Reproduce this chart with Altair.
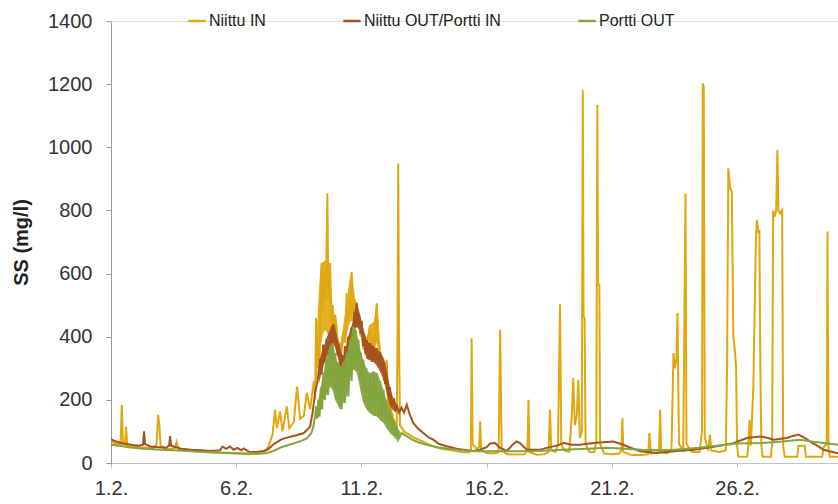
import altair as alt
import pandas as pd

# Suspended solids (mg/l), day 0 = 1.2.; values are (day, SS)
niittu_in = [
    (0.00, 70), (0.15, 62), (0.30, 60), (0.38, 58), (0.43, 184), (0.48, 60), (0.56, 58), (0.60, 115),
    (0.65, 55), (0.90, 52), (1.10, 50), (1.30, 48), (1.50, 50), (1.70, 47), (1.82, 60), (1.88, 153),
    (1.93, 120), (1.98, 55), (2.20, 45), (2.40, 44), (2.55, 48), (2.62, 67), (2.70, 42), (3.00, 40),
    (3.50, 36), (4.00, 33), (4.50, 32), (5.00, 30), (5.50, 28), (6.00, 30), (6.20, 40),
    (6.30, 55), (6.45, 90), (6.55, 169), (6.62, 110), (6.75, 163), (6.85, 100), (7.02, 179), (7.12, 110),
    (7.30, 130), (7.43, 242), (7.55, 140), (7.70, 150), (7.82, 222), (7.95, 170),
    (8.10, 260), (8.15, 200), (8.19, 459), (8.23, 300), (8.28, 380), (8.33, 320), (8.37, 520), (8.41, 633),
    (8.45, 480), (8.50, 600), (8.55, 520), (8.60, 640), (8.64, 854), (8.68, 520), (8.72, 600), (8.75, 633),
    (8.80, 450), (8.85, 500), (8.90, 400), (8.95, 470), (9.01, 432), (9.06, 340), (9.12, 380), (9.18, 330),
    (9.24, 400), (9.30, 420), (9.36, 380), (9.41, 538), (9.46, 450), (9.52, 520), (9.57, 470), (9.61, 606),
    (9.66, 480), (9.72, 520), (9.77, 450), (9.81, 510), (9.86, 430), (9.92, 460), (9.97, 400), (10.03, 420),
    (10.08, 360), (10.14, 390), (10.20, 350), (10.27, 400), (10.34, 437), (10.40, 370), (10.46, 400),
    (10.52, 360), (10.57, 450), (10.61, 506), (10.66, 380), (10.72, 350), (10.78, 300), (10.84, 320),
    (10.90, 260), (10.95, 290), (11.01, 327), (11.06, 200), (11.12, 180), (11.18, 140), (11.24, 150),
    (11.30, 110), (11.36, 125), (11.41, 116), (11.44, 400), (11.47, 949), (11.50, 400), (11.54, 120),
    (11.70, 100), (11.90, 90), (12.10, 80), (12.40, 70), (12.80, 55), (13.20, 45), (13.60, 40),
    (14.00, 35), (14.30, 33), (14.37, 40), (14.40, 395), (14.44, 60), (14.60, 45), (14.70, 50),
    (14.74, 132), (14.78, 40), (15.00, 32), (15.30, 30), (15.48, 35), (15.54, 422), (15.60, 40),
    (15.80, 28), (16.20, 27), (16.50, 28), (16.63, 40), (16.67, 200), (16.71, 35), (17.00, 26),
    (17.30, 28), (17.47, 35), (17.53, 169), (17.58, 40), (17.75, 35), (17.85, 60), (17.93, 503),
    (17.98, 60), (18.10, 40), (18.30, 35), (18.40, 150), (18.46, 269), (18.52, 120), (18.60, 150),
    (18.66, 264), (18.72, 80), (18.80, 100), (18.84, 1181), (18.87, 464), (18.91, 460), (18.95, 60),
    (19.10, 35), (19.30, 35), (19.38, 70), (19.42, 1134), (19.45, 569), (19.50, 560), (19.53, 60),
    (19.70, 30), (20.00, 28), (20.30, 30), (20.38, 40), (20.42, 142), (20.46, 35), (20.80, 25),
    (21.20, 25), (21.45, 28), (21.50, 95), (21.56, 30), (21.88, 35), (21.93, 169), (21.97, 35),
    (22.20, 30), (22.38, 40), (22.46, 348), (22.52, 300), (22.58, 330), (22.62, 475), (22.68, 60),
    (22.85, 40), (22.94, 854), (22.98, 60), (23.20, 35), (23.50, 35), (23.60, 100), (23.63, 1202),
    (23.67, 1190), (23.71, 80), (23.85, 40), (23.92, 90), (23.97, 40), (24.30, 35), (24.55, 40),
    (24.60, 300), (24.65, 933), (24.72, 870), (24.79, 859), (24.85, 400), (24.92, 350), (24.96, 306),
    (25.00, 55), (25.05, 20), (25.40, 20), (25.45, 55), (25.50, 137), (25.55, 55), (25.65, 242),
    (25.75, 700), (25.79, 770), (25.85, 730), (25.89, 738), (25.93, 300), (25.97, 55), (26.02, 20),
    (26.35, 20), (26.40, 60), (26.44, 800), (26.50, 780), (26.56, 800), (26.61, 991), (26.65, 800),
    (26.72, 790), (26.80, 801), (26.84, 55), (26.90, 20), (27.40, 20), (27.45, 55), (27.70, 55),
    (27.75, 20), (28.40, 20), (28.45, 50), (28.58, 60), (28.61, 733), (28.65, 50), (28.70, 20),
    (29.05, 20),
]

niittu_out_portti_in = [
    (0.00, 75), (0.20, 68), (0.50, 62), (0.80, 58), (1.10, 55), (1.28, 58), (1.32, 100), (1.36, 60),
    (1.60, 52), (1.90, 50), (2.20, 48), (2.32, 55), (2.36, 85), (2.40, 55), (2.60, 50), (2.80, 45),
    (3.20, 42), (3.60, 40), (4.00, 38), (4.35, 40), (4.45, 52), (4.60, 45), (4.75, 52), (4.90, 42),
    (5.05, 48), (5.20, 40), (5.30, 46), (5.50, 36), (5.80, 35), (6.10, 38), (6.30, 45), (6.50, 60),
    (6.80, 75), (7.10, 82), (7.40, 88), (7.70, 95), (7.95, 115), (8.05, 160), (8.15, 222), (8.25, 260),
    (8.35, 330), (8.41, 280), (8.47, 375), (8.53, 320), (8.61, 395), (8.67, 340), (8.75, 415), (8.81, 360),
    (8.88, 440), (8.94, 380), (9.00, 395), (9.05, 340), (9.10, 375), (9.16, 300), (9.22, 340), (9.28, 280),
    (9.34, 370), (9.40, 320), (9.47, 400), (9.54, 360), (9.60, 430), (9.66, 400), (9.72, 480), (9.78, 430),
    (9.81, 506), (9.86, 440), (9.91, 470), (9.96, 410), (10.01, 450), (10.06, 370), (10.11, 410),
    (10.16, 345), (10.21, 390), (10.28, 330), (10.35, 380), (10.41, 320), (10.48, 370), (10.54, 320),
    (10.61, 365), (10.67, 310), (10.74, 350), (10.81, 290), (10.88, 320), (10.94, 250), (11.00, 280),
    (11.07, 210), (11.14, 240), (11.21, 180), (11.30, 205), (11.36, 165), (11.41, 185), (11.50, 160),
    (11.60, 175), (11.70, 160), (11.81, 185), (11.90, 160), (11.95, 150), (12.07, 127), (12.25, 110),
    (12.47, 95), (12.70, 80), (12.87, 74), (13.10, 60), (13.41, 53), (13.80, 45), (14.07, 42),
    (14.46, 38), (14.74, 42), (15.00, 50), (15.14, 62), (15.34, 63), (15.50, 50), (15.80, 38),
    (16.07, 60), (16.20, 68), (16.33, 63), (16.60, 42), (17.13, 42), (17.40, 48), (17.80, 55),
    (18.07, 63), (18.40, 58), (18.73, 58), (19.10, 62), (19.53, 65), (20.06, 68), (20.30, 62),
    (20.60, 53), (21.13, 37), (21.79, 32), (22.46, 37), (23.26, 42), (23.80, 48), (24.19, 53),
    (24.85, 63), (25.39, 79), (25.92, 84), (26.20, 80), (26.45, 74), (26.98, 79), (27.20, 85),
    (27.45, 90), (27.70, 80), (27.92, 68), (28.20, 55), (28.45, 42), (28.98, 32), (29.05, 32),
]

portti_out = [
    (0.00, 58), (0.30, 55), (0.70, 50), (1.20, 46), (1.80, 43), (2.50, 40), (3.20, 37), (4.00, 34),
    (4.80, 32), (5.50, 30), (6.20, 31), (6.48, 38), (6.80, 50), (7.28, 62), (7.60, 70), (7.82, 78),
    (8.00, 95), (8.08, 116), (8.15, 150),
    (8.20, 180), (8.24, 140), (8.28, 200), (8.33, 147), (8.38, 240), (8.43, 170), (8.48, 285), (8.54, 200),
    (8.60, 330), (8.67, 215), (8.75, 369), (8.80, 240), (8.85, 380), (8.90, 230), (8.95, 348), (9.00, 200),
    (9.05, 320), (9.10, 185), (9.15, 305), (9.21, 170), (9.28, 320), (9.34, 190), (9.41, 348), (9.48, 211),
    (9.55, 390), (9.61, 260), (9.68, 432), (9.73, 295), (9.78, 420), (9.83, 290), (9.88, 390), (9.93, 263),
    (9.98, 350), (10.03, 220), (10.08, 327), (10.14, 190), (10.20, 300), (10.27, 170), (10.34, 285),
    (10.41, 158), (10.48, 290), (10.54, 150), (10.61, 285), (10.68, 147), (10.75, 260), (10.81, 135),
    (10.88, 232), (10.94, 127), (11.00, 200), (11.07, 110), (11.14, 169), (11.21, 95), (11.28, 140),
    (11.34, 85), (11.41, 116), (11.47, 74),
    (11.60, 95), (11.80, 85), (12.00, 75), (12.30, 65), (12.60, 58), (13.00, 50), (13.50, 45),
    (14.00, 40), (14.50, 37), (15.00, 37), (16.00, 37), (17.00, 38), (18.00, 42), (19.00, 45),
    (19.80, 48), (20.50, 45), (21.20, 42), (22.00, 40), (22.50, 42), (23.50, 48), (24.20, 55),
    (25.00, 62), (26.00, 63), (26.80, 68), (27.50, 74), (28.00, 68), (28.60, 62), (29.05, 58),
]

# Range of the rapid fluctuation during the 9.2.-12.2. event: (day, low, high)
niittu_in_range = [
    (8.15, 200, 300), (8.25, 300, 460), (8.40, 380, 630), (8.55, 420, 640), (8.70, 400, 630),
    (8.85, 380, 500), (9.00, 360, 430), (9.15, 330, 380), (9.30, 380, 450), (9.45, 420, 540),
    (9.60, 450, 600), (9.75, 440, 520), (9.90, 420, 460), (10.05, 380, 420), (10.20, 350, 400),
    (10.35, 360, 437), (10.50, 360, 450), (10.62, 380, 506), (10.75, 320, 380), (10.90, 260, 320),
    (11.05, 200, 280), (11.20, 140, 180), (11.40, 110, 125),
]

niittu_out_portti_in_range = [
    (8.30, 250, 320), (8.61, 335, 395), (8.88, 375, 440), (9.05, 335, 395), (9.28, 280, 340),
    (9.47, 320, 400), (9.66, 395, 450), (9.81, 430, 500), (10.01, 405, 450), (10.21, 330, 390),
    (10.48, 320, 370), (10.74, 290, 350), (10.94, 250, 320), (11.14, 180, 240), (11.41, 160, 185),
]

portti_out_range = [
    (8.15, 140, 160), (8.28, 147, 200), (8.48, 200, 285), (8.60, 215, 330), (8.75, 240, 372),
    (8.85, 230, 380), (8.95, 200, 348), (9.05, 185, 320), (9.15, 170, 305), (9.28, 190, 320),
    (9.41, 211, 348), (9.55, 260, 390), (9.68, 295, 432), (9.78, 290, 420), (9.88, 263, 390),
    (9.98, 220, 350), (10.08, 190, 327), (10.20, 170, 300), (10.34, 158, 285), (10.48, 150, 290),
    (10.61, 147, 285), (10.75, 135, 260), (10.88, 127, 232), (11.00, 110, 200), (11.14, 95, 169),
    (11.28, 85, 140), (11.41, 74, 116), (11.55, 80, 100),
]

series_names = ["Niittu IN", "Niittu OUT/Portti IN", "Portti OUT"]
series_colors = ["#E1A70F", "#A4531E", "#82A53F"]
x_tick_days = [0, 5, 10, 15, 20, 25]
y_ticks = [0, 200, 400, 600, 800, 1000, 1200, 1400]


def to_frame(points, name):
    return pd.DataFrame({
        "day": [p[0] for p in points],
        "ss": [p[1] for p in points],
        "series": name,
    })


def range_frame(rows):
    return pd.DataFrame({
        "day": [r[0] for r in rows],
        "low": [r[1] for r in rows],
        "high": [r[2] for r in rows],
    })


FONT = "Liberation Sans, Arial, sans-serif"

color = alt.Color(
    "series:N",
    scale=alt.Scale(domain=series_names, range=series_colors),
    legend=alt.Legend(
        title=None,
        orient="none",
        legendX=76,
        legendY=-10,
        direction="horizontal",
        symbolType="stroke",
        symbolSize=300,
        symbolStrokeWidth=2.5,
        labelFontSize=16,
        labelFont=FONT,
        labelColor="#222222",
        labelOffset=2,
        labelLimit=400,
        columnPadding=72,
        padding=0,
    ),
)

x_scale = alt.Scale(domain=[0, 29.03], nice=False, zero=False)
y_scale = alt.Scale(domain=[0, 1400], nice=False)

x = alt.X(
    "day:Q",
    scale=x_scale,
    axis=alt.Axis(
        values=x_tick_days,
        labelExpr="(datum.value + 1) + '.2.'",
        labelFlush=False,
        title=None,
        grid=False,
        domainColor="#B8C2D6",
        tickColor="#B8C2D6",
        tickSize=5,
        labelFont=FONT,
        labelFontSize=20,
        labelColor="#333333",
        labelPadding=10,
    ),
)

y = alt.Y(
    "ss:Q",
    scale=y_scale,
    axis=alt.Axis(
        values=y_ticks,
        format="d",
        labelFlush=False,
        title="SS (mg/l)",
        titleFont=FONT,
        titleFontSize=20,
        titleFontWeight="bold",
        titleColor="#222222",
        titleX=-90,
        titleY=221,
        titleAlign="center",
        titleBaseline="middle",
        grid=False,
        domainColor="#999999",
        tickColor="#999999",
        tickSize=5,
        labelFont=FONT,
        labelFontSize=20,
        labelColor="#333333",
        labelPadding=14,
    ),
)


def series_line(points, name):
    return (
        alt.Chart(to_frame(points, name))
        .mark_line(strokeWidth=2, clip=True)
        .encode(x=x, y=y, color=color, order="day:Q")
    )


def series_range(rows, colour):
    return (
        alt.Chart(range_frame(rows))
        .mark_area(color=colour, opacity=0.9, clip=True, interpolate="monotone")
        .encode(x=alt.X("day:Q", scale=x_scale), y=alt.Y("low:Q", scale=y_scale), y2="high:Q")
    )


chart = (
    alt.layer(
        series_range(niittu_in_range, series_colors[0]),
        series_line(niittu_in, series_names[0]),
        series_range(niittu_out_portti_in_range, series_colors[1]),
        series_line(niittu_out_portti_in, series_names[1]),
        series_range(portti_out_range, series_colors[2]),
        series_line(portti_out, series_names[2]),
    )
    .properties(
        width=727,
        height=442,
        autosize=alt.AutoSizeParams(type="none"),
        padding={"left": 111, "top": 21, "right": 0, "bottom": 41},
    )
    .configure_view(stroke=None)
    .configure(background="white")
)

chart.save("out.html", embed_options={"renderer": "svg", "actions": False})
